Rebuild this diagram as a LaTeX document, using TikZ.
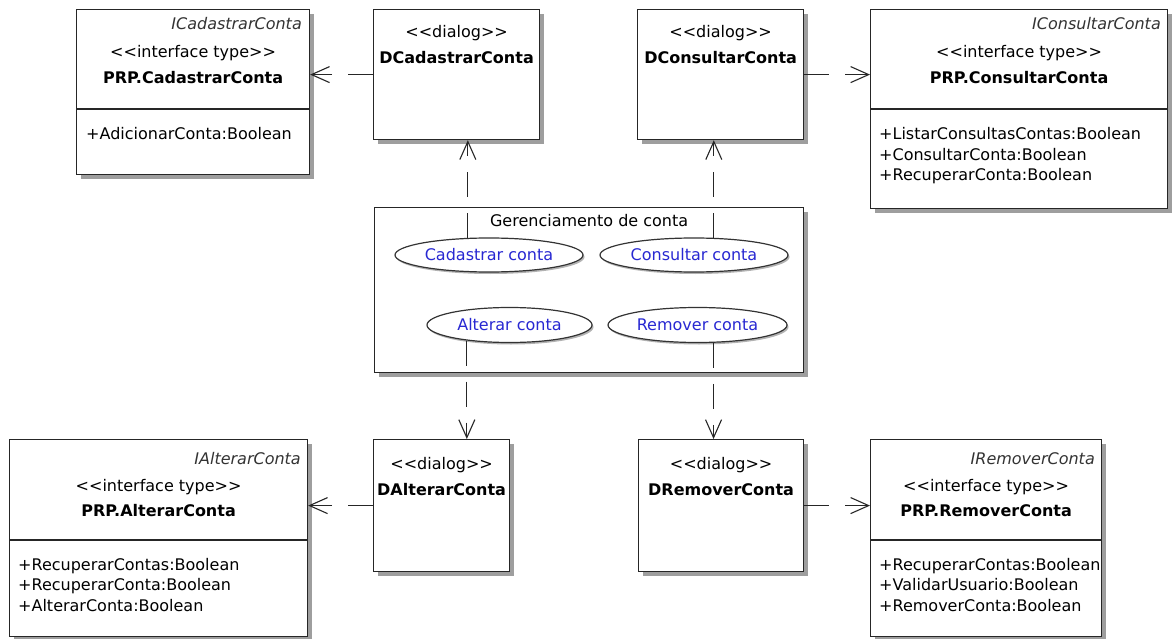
\documentclass[tikz,border=0pt]{standalone}
\usepackage{fontspec}
\setmainfont{DejaVu Sans}
\usetikzlibrary{arrows.meta,shadows,shapes.geometric}
\definecolor{shadowgray}{RGB}{158,158,158}
\definecolor{ucblue}{RGB}{40,40,210}
% guillemet-like stereotype brackets, kept as two separate glyphs
\newcommand\guilL{<\kern0pt<}
\newcommand\guilR{>\kern0pt>}
\begin{document}
\begin{tikzpicture}[x=1pt,y=-1pt,
  font=\fontsize{16}{19}\selectfont,
  umlbox/.style={rectangle, draw=black!85, line width=1.2pt, fill=white, anchor=north west, inner sep=0pt,
    drop shadow={shadow xshift=4.5pt, shadow yshift=-4.5pt, fill=shadowgray, opacity=1}},
  usecase/.style={ellipse, draw=black!80, line width=1.2pt, fill=white, text=ucblue, inner sep=0pt,
    drop shadow={shadow xshift=1.5pt, shadow yshift=-2pt, fill=black!30, opacity=1}},
  dep/.style={line width=1.1pt, black!85, dash pattern=on 25pt off 16pt,
    -{Straight Barb[length=18pt,width=16pt]}},
  sepline/.style={line width=1.1pt, black!85},
  lbl/.style={inner sep=0pt, anchor=base},
  itname/.style={lbl, anchor=base east, font=\fontsize{16}{19}\selectfont\itshape, text=black!80},
  bname/.style={lbl, font=\fontsize{16}{19}\selectfont\bfseries},
  optxt/.style={lbl, anchor=base west},
]
\useasboundingbox (0,0) rectangle (1175,639);
\fill[white] (0,0) rectangle (1175,639);

% ---------- boxes ----------
\node[umlbox, minimum width=233pt, minimum height=165pt] (icad) at (76,9) {};
\node[umlbox, minimum width=166pt, minimum height=130pt] (dcad) at (373,9) {};
\node[umlbox, minimum width=166pt, minimum height=130pt] (dcon) at (637,9) {};
\node[umlbox, minimum width=297pt, minimum height=199pt] (icon) at (870,9) {};
\node[umlbox, minimum width=429pt, minimum height=165pt] (ger) at (374,207) {};
\node[umlbox, minimum width=298pt, minimum height=197pt] (ialt) at (9,439) {};
\node[umlbox, minimum width=136pt, minimum height=132pt] (dalt) at (373,439) {};
\node[umlbox, minimum width=165pt, minimum height=132pt] (drem) at (638,439) {};
\node[umlbox, minimum width=231pt, minimum height=197pt] (irem) at (870,439) {};

% ---------- interface PRP.CadastrarConta ----------
\node[itname] (icadI) at (302,30) {ICadastrarConta};
\node[lbl] (icadS) at (icad.center |- 0,58) {\guilL interface type\guilR};
\node[bname] (icadN) at (icad.center |- 0,84) {PRP.CadastrarConta};
\draw[sepline] (icad.west |- 0,109) -- (icad.east |- 0,109);
\node[optxt] (icadO1) at (86,140) {+AdicionarConta:Boolean};

% ---------- interface PRP.ConsultarConta ----------
\node[itname] (iconI) at (1161,30) {IConsultarConta};
\node[lbl] (iconS) at (icon.center |- 0,58) {\guilL interface type\guilR};
\node[bname] (iconN) at (icon.center |- 0,84) {PRP.ConsultarConta};
\draw[sepline] (icon.west |- 0,109) -- (icon.east |- 0,109);
\node[optxt] (iconO1) at (879,140) {+ListarConsultasContas:Boolean};
\node[optxt] (iconO2) at (879,160.5) {+ConsultarConta:Boolean};
\node[optxt] (iconO3) at (879,181) {+RecuperarConta:Boolean};

% ---------- dialogs, top row ----------
\node[lbl] (dcadS) at (dcad.center |- 0,38) {\guilL dialog\guilR};
\node[bname] (dcadN) at (dcad.center |- 0,64) {DCadastrarConta};
\node[lbl] (dconS) at (dcon.center |- 0,38) {\guilL dialog\guilR};
\node[bname] (dconN) at (dcon.center |- 0,64) {DConsultarConta};

% ---------- use case package ----------
\node[lbl] (gerT) at (ger.center |- 0,226) {Gerenciamento de conta};

% ---------- interface PRP.AlterarConta ----------
\node[itname] (ialtI) at (301,464) {IAlterarConta};
\node[lbl] (ialtS) at (ialt.center |- 0,491) {\guilL interface type\guilR};
\node[bname] (ialtN) at (ialt.center |- 0,516) {PRP.AlterarConta};
\draw[sepline] (ialt.west |- 0,540) -- (ialt.east |- 0,540);
\node[optxt] (ialtO1) at (18,570) {+RecuperarContas:Boolean};
\node[optxt] (ialtO2) at (18,590.5) {+RecuperarConta:Boolean};
\node[optxt] (ialtO3) at (18,611) {+AlterarConta:Boolean};

% ---------- interface PRP.RemoverConta ----------
\node[itname] (iremI) at (1095,464) {IRemoverConta};
\node[lbl] (iremS) at (irem.center |- 0,491) {\guilL interface type\guilR};
\node[bname] (iremN) at (irem.center |- 0,516) {PRP.RemoverConta};
\draw[sepline] (irem.west |- 0,540) -- (irem.east |- 0,540);
\node[optxt] (iremO1) at (879,570) {+RecuperarContas:Boolean};
\node[optxt] (iremO2) at (879,590.5) {+ValidarUsuario:Boolean};
\node[optxt] (iremO3) at (879,611) {+RemoverConta:Boolean};

% ---------- dialogs, bottom row ----------
\node[lbl] (daltS) at (dalt.center |- 0,469) {\guilL dialog\guilR};
\node[bname] (daltN) at (dalt.center |- 0,495) {DAlterarConta};
\node[lbl] (dremS) at (drem.center |- 0,469) {\guilL dialog\guilR};
\node[bname] (dremN) at (drem.center |- 0,495) {DRemoverConta};

% ---------- use cases ----------
\node[usecase, minimum width=188pt, minimum height=34pt] (ucad) at (489,255) {Cadastrar conta};
\node[usecase, minimum width=188pt, minimum height=34pt] (ucon) at (694,255) {Consultar conta};
\node[usecase, minimum width=165pt, minimum height=35pt] (ualt) at (509.5,325) {Alterar conta};
\node[usecase, minimum width=179pt, minimum height=35pt] (urem) at (697.5,325) {Remover conta};

% ---------- dependencies ----------
\draw[dep] (ucad.141.7) -- (ucad.141.7 |- dcad.south);
\draw[dep] (ucon.41.2) -- (ucon.41.2 |- dcon.south);
\draw[dep] (ualt.200) -- (ualt.200 |- dalt.north);
\draw[dep] (urem.312) -- (urem.312 |- drem.north);

\draw[dep] (dcad.west) -- (dcad.west -| icad.east);
\draw[dep] (dcon.east) -- (dcon.east -| icon.west);
\draw[dep] (dalt.west) -- (dalt.west -| ialt.east);
\draw[dep] (drem.east) -- (drem.east -| irem.west);
\end{tikzpicture}
\end{document}
